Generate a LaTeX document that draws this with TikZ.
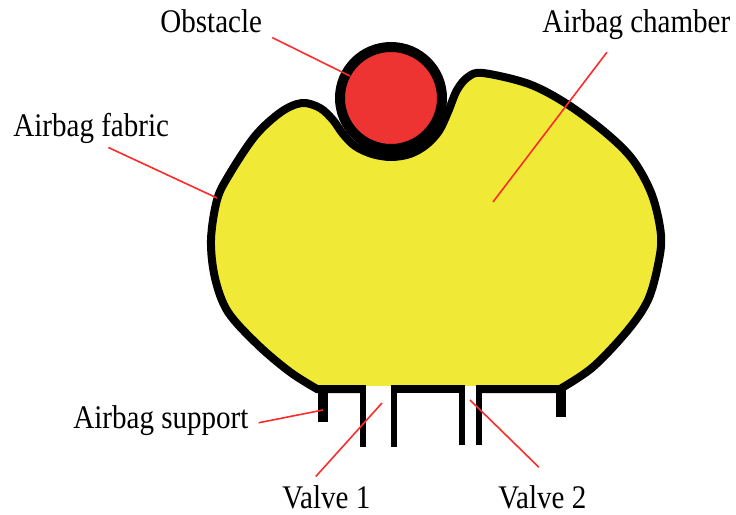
\documentclass[tikz,border=0pt]{standalone}
\usepackage{fontspec}
\setmainfont{Liberation Serif}
\usepackage{tikz}
\definecolor{bagyellow}{HTML}{F0EA36}
\definecolor{obstred}{HTML}{EE3333}
\definecolor{leadred}{HTML}{FF2A2A}
\newcommand{\lbltext}[1]{\scalebox{0.88}[1]{#1}}

\begin{document}
\begin{tikzpicture}[x=0.5pt,y=-0.5pt,font=\fontsize{16.5}{18}\selectfont,
    lbl/.style={anchor=base west,inner sep=0pt},
    leader/.style={leadred,line width=0.8pt},
    wall/.style={line width=3pt},
    leg/.style={line width=5pt}]
  \useasboundingbox (0,0) rectangle (736,515);
  % bag outline, dented by the obstacle
  \filldraw[fill=bagyellow,line width=4pt] (366,389) -- plot[smooth,tension=0.55] coordinates {
      (317,389) (290,372) (258,345) (228,312) (215,278) (211,240) (217,200)
      (229,175) (255,136) (281,112) (302,103) (320,108) (333,120)
      (343,134) (355,146) (372,154) (391,157) (410,154) (426,145) (439,131)
      (448,112) (457,90) (468,77) (483,73) (529,84) (567,104) (606,133)
      (633,160) (652,195) (661,235) (658,265) (648,300) (628,330) (593,367)
      (560,389)} -- (477,389);
  \draw[line width=4pt] (392,389) -- (465,389);
  \fill[white] (366,386) rectangle (392,394);
  \fill[white] (465,386) rectangle (477,394);
  \draw[leg] (323,389) -- (323,422);
  \draw[leg] (561,389) -- (561,417);
  \draw[wall] (363,385) -- (363,447);
  \draw[wall] (394.5,385) -- (394.5,447);
  \draw[wall] (462,385) -- (462,445);
  \draw[wall] (479.5,385) -- (479.5,445);
  \filldraw[fill=obstred,line width=5pt] (391,98) circle (51);

  \node[lbl] (obst) at (160,32) {\lbltext{Obstacle}};
  \node[lbl] (chamb) at (542,32) {\lbltext{Airbag chamber}};
  \node[lbl] (fabric) at (13,136) {\lbltext{Airbag fabric}};
  \node[lbl] (supp) at (73,428) {\lbltext{Airbag support}};
  \node[lbl] (valveA) at (282,508) {\lbltext{Valve 1}};
  \node[lbl] (valveB) at (498,508) {\lbltext{Valve 2}};

  \coordinate (obsttip) at (350,76);
  \coordinate (chambtip) at (493,202);
  \coordinate (fabrictip) at (217,198);
  \coordinate (supptip) at (323,410);
  \coordinate (valveAtip) at (382,403);
  \coordinate (valveBtip) at (470,400);
  \draw[leader,shorten <=5.5pt] (obst.south east) -- (obsttip);
  \draw[leader,shorten <=8pt] (chamb.218) -- (chambtip);
  \draw[leader,shorten <=4.7pt] (fabric.-61) -- (fabrictip);
  \draw[leader,shorten <=5pt] (supp.-3) -- (supptip);
  \draw[leader,shorten <=5.5pt] (valveA.146) -- (valveAtip);
  \draw[leader,shorten <=12.5pt] (valveB.40) -- (valveBtip);
\end{tikzpicture}
\end{document}
